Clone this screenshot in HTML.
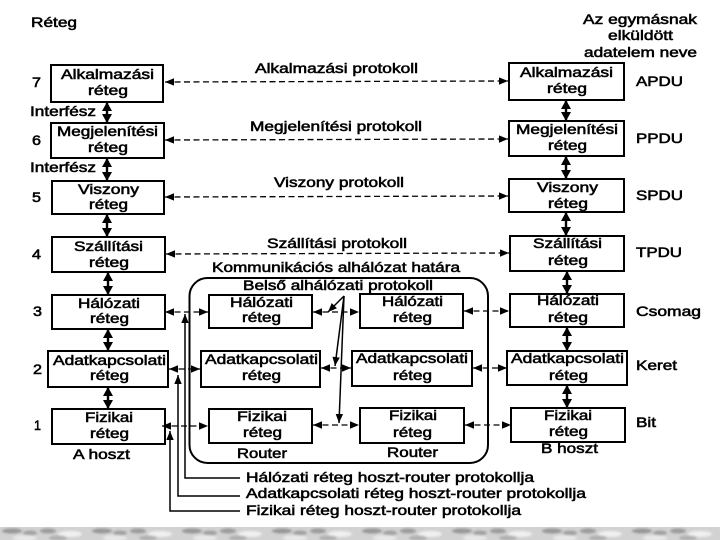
<!DOCTYPE html>
<html lang="hu">
<head>
<meta charset="utf-8">
<title>OSI rétegek</title>
<style>
html,body{margin:0;padding:0;background:#fff;width:720px;height:540px;overflow:hidden}
svg{display:block}
text{font-family:"Liberation Sans",sans-serif;font-size:14px;fill:#000;stroke:#000;stroke-width:.55px}
.b{fill:#fff;stroke:#000;stroke-width:2}
.d{stroke:#000;stroke-width:1.3;stroke-dasharray:6 3.5;fill:none}
.v{stroke:#000;stroke-width:2.4;fill:none}
.l{stroke:#000;stroke-width:1.5;fill:none}
.i{stroke:#000;stroke-width:1.5;fill:none}
</style>
</head>
<body>
<svg width="720" height="540" viewBox="0 0 720 540" xmlns="http://www.w3.org/2000/svg">
<defs>
<marker id="a" markerUnits="userSpaceOnUse" markerWidth="11" markerHeight="9" refX="9" refY="4.500" orient="auto-start-reverse"><path d="M0 .8 L9 4.500 L0 8.200Z" fill="#000"/></marker>
<marker id="w" markerUnits="userSpaceOnUse" markerWidth="11" markerHeight="11" refX="9" refY="5.500" orient="auto-start-reverse"><path d="M0 .5 L9 5.500 L0 10.500Z" fill="#000"/></marker>
<filter id="s" x="-10%" y="-30%" width="120%" height="160%"><feGaussianBlur stdDeviation="1"/></filter>
<pattern id="t" width="90" height="14" patternUnits="userSpaceOnUse" y="527">
<rect width="90" height="14" fill="#d2d2d2"/>
<g filter="url(#s)">
<ellipse cx="12" cy="4" rx="10" ry="2.500" fill="#979797"/>
<ellipse cx="30" cy="6" rx="7" ry="2.500" fill="#a2a2a2"/>
<ellipse cx="48" cy="4" rx="8" ry="2.500" fill="#9b9b9b"/>
<ellipse cx="70" cy="7" rx="12" ry="3" fill="#f0f0f0"/>
<ellipse cx="25" cy="11" rx="12" ry="3" fill="#e8e8e8"/>
<ellipse cx="58" cy="11" rx="9" ry="2.500" fill="#b0b0b0"/>
</g>
</pattern>
</defs>

<rect x="0" y="527" width="720" height="13" fill="url(#t)"/>

<!-- subnet boundary -->
<rect x="189.500" y="278" width="298.500" height="185" rx="18" fill="none" stroke="#000" stroke-width="2"/>

<!-- left boxes -->
<rect class="b" x="51" y="65" width="112" height="37"/>
<rect class="b" x="51" y="123" width="113" height="35"/>
<rect class="b" x="52" y="181" width="112" height="33"/>
<rect class="b" x="52" y="237" width="113" height="35"/>
<rect class="b" x="52" y="295" width="113" height="34"/>
<rect class="b" x="48" y="351" width="120" height="36"/>
<rect class="b" x="52" y="409" width="113" height="35"/>

<!-- right boxes -->
<rect class="b" x="509" y="63" width="115" height="37"/>
<rect class="b" x="509" y="121" width="115" height="35"/>
<rect class="b" x="509" y="179" width="115" height="33"/>
<rect class="b" x="510" y="236" width="114" height="35"/>
<rect class="b" x="510" y="294" width="114" height="33"/>
<rect class="b" x="507" y="351" width="120" height="34"/>
<rect class="b" x="511" y="408" width="114" height="34"/>

<!-- middle boxes -->
<rect class="b" x="209" y="295" width="103" height="33"/>
<rect class="b" x="201" y="351" width="119" height="36"/>
<rect class="b" x="209" y="409" width="103" height="34"/>
<rect class="b" x="360" y="294" width="103" height="34"/>
<rect class="b" x="352" y="351" width="120" height="35"/>
<rect class="b" x="360" y="408" width="104" height="35"/>

<!-- vertical arrows -->
<line class="v" x1="107" y1="102" x2="107" y2="123" marker-start="url(#w)" marker-end="url(#w)"/>
<line class="v" x1="107" y1="158" x2="107" y2="181" marker-start="url(#w)" marker-end="url(#w)"/>
<line class="v" x1="107" y1="214" x2="107" y2="237" marker-start="url(#w)" marker-end="url(#w)"/>
<line class="v" x1="108" y1="272" x2="108" y2="295" marker-start="url(#w)" marker-end="url(#w)"/>
<line class="v" x1="108" y1="329" x2="108" y2="351" marker-start="url(#w)" marker-end="url(#w)"/>
<line class="v" x1="108" y1="387" x2="108" y2="409" marker-start="url(#w)" marker-end="url(#w)"/>
<line class="v" x1="566" y1="100" x2="566" y2="121" marker-start="url(#w)" marker-end="url(#w)"/>
<line class="v" x1="566" y1="156" x2="566" y2="179" marker-start="url(#w)" marker-end="url(#w)"/>
<line class="v" x1="566" y1="212" x2="566" y2="236" marker-start="url(#w)" marker-end="url(#w)"/>
<line class="v" x1="567" y1="271" x2="567" y2="294" marker-start="url(#w)" marker-end="url(#w)"/>
<line class="v" x1="567" y1="327" x2="567" y2="351" marker-start="url(#w)" marker-end="url(#w)"/>
<line class="v" x1="567" y1="385" x2="567" y2="408" marker-start="url(#w)" marker-end="url(#w)"/>

<!-- dashed peer protocols -->
<line class="d" x1="165" y1="82" x2="508" y2="81" marker-start="url(#a)" marker-end="url(#a)"/>
<line class="d" x1="165" y1="140" x2="508" y2="139" marker-start="url(#a)" marker-end="url(#a)"/>
<line class="d" x1="165" y1="197" x2="508" y2="196" marker-start="url(#a)" marker-end="url(#a)"/>
<line class="d" x1="166" y1="254" x2="509" y2="253" marker-start="url(#a)" marker-end="url(#a)"/>

<line class="d" x1="165" y1="312" x2="208" y2="312" marker-start="url(#a)" marker-end="url(#a)"/>
<line class="d" x1="169" y1="369" x2="200" y2="369" marker-start="url(#a)" marker-end="url(#a)"/>
<line class="d" x1="162" y1="426" x2="208" y2="426" marker-start="url(#a)" marker-end="url(#a)"/>
<line class="d" x1="313" y1="312" x2="359" y2="312" marker-start="url(#a)" marker-end="url(#a)"/>
<line class="d" x1="321" y1="368" x2="351" y2="368" marker-start="url(#a)" marker-end="url(#a)"/>
<line class="d" x1="313" y1="425" x2="359" y2="425" marker-start="url(#a)" marker-end="url(#a)"/>
<line class="d" x1="464" y1="311" x2="509" y2="311" marker-start="url(#a)" marker-end="url(#a)"/>
<line class="d" x1="473" y1="368" x2="507" y2="368" marker-start="url(#a)" marker-end="url(#a)"/>
<line class="d" x1="465" y1="425" x2="511" y2="425" marker-start="url(#a)" marker-end="url(#a)"/>

<!-- inner protocol leaders -->
<line class="i" x1="344" y1="296" x2="328" y2="312" marker-end="url(#a)"/>
<line class="i" x1="344" y1="296" x2="335" y2="366" marker-end="url(#a)"/>
<line class="i" x1="344" y1="296" x2="339" y2="423" marker-end="url(#a)"/>

<!-- host-router leaders -->
<polyline class="l" points="240,478 185,478 185,314" marker-end="url(#a)"/>
<polyline class="l" points="240,496 178,496 178,375" marker-end="url(#a)"/>
<polyline class="l" points="240,511 170,511 170,431" marker-end="url(#a)"/>

<!-- headings -->
<text x="31" y="27" textLength="46" lengthAdjust="spacingAndGlyphs">Réteg</text>
<text x="583" y="24" textLength="114" lengthAdjust="spacingAndGlyphs">Az egymásnak</text>
<text x="608" y="40" textLength="65" lengthAdjust="spacingAndGlyphs">elküldött</text>
<text x="584" y="57" textLength="113" lengthAdjust="spacingAndGlyphs">adatelem neve</text>

<!-- layer numbers -->
<text x="32" y="87" textLength="9" lengthAdjust="spacingAndGlyphs">7</text>
<text x="32" y="145" textLength="9" lengthAdjust="spacingAndGlyphs">6</text>
<text x="32" y="202" textLength="9" lengthAdjust="spacingAndGlyphs">5</text>
<text x="32" y="259" textLength="9" lengthAdjust="spacingAndGlyphs">4</text>
<text x="33" y="316" textLength="9" lengthAdjust="spacingAndGlyphs">3</text>
<text x="33" y="374" textLength="9" lengthAdjust="spacingAndGlyphs">2</text>
<text x="34" y="430" textLength="7" lengthAdjust="spacingAndGlyphs">1</text>

<text x="30" y="116" textLength="66" lengthAdjust="spacingAndGlyphs">Interfész</text>
<text x="30" y="172" textLength="66" lengthAdjust="spacingAndGlyphs">Interfész</text>

<!-- left box text -->
<text x="61" y="79" textLength="93" lengthAdjust="spacingAndGlyphs">Alkalmazási</text>
<text x="88" y="95" textLength="40" lengthAdjust="spacingAndGlyphs">réteg</text>
<text x="57" y="136" textLength="101" lengthAdjust="spacingAndGlyphs">Megjelenítési</text>
<text x="88" y="152" textLength="40" lengthAdjust="spacingAndGlyphs">réteg</text>
<text x="78" y="194" textLength="61" lengthAdjust="spacingAndGlyphs">Viszony</text>
<text x="89" y="209" textLength="39" lengthAdjust="spacingAndGlyphs">réteg</text>
<text x="74" y="251" textLength="69" lengthAdjust="spacingAndGlyphs">Szállítási</text>
<text x="89" y="267" textLength="40" lengthAdjust="spacingAndGlyphs">réteg</text>
<text x="78" y="308" textLength="62" lengthAdjust="spacingAndGlyphs">Hálózati</text>
<text x="90" y="323" textLength="39" lengthAdjust="spacingAndGlyphs">réteg</text>
<text x="53" y="365" textLength="113" lengthAdjust="spacingAndGlyphs">Adatkapcsolati</text>
<text x="90" y="380" textLength="39" lengthAdjust="spacingAndGlyphs">réteg</text>
<text x="85" y="422" textLength="48" lengthAdjust="spacingAndGlyphs">Fizikai</text>
<text x="90" y="438" textLength="39" lengthAdjust="spacingAndGlyphs">réteg</text>
<text x="73" y="459" textLength="57" lengthAdjust="spacingAndGlyphs">A hoszt</text>

<!-- right box text -->
<text x="520" y="77" textLength="93" lengthAdjust="spacingAndGlyphs">Alkalmazási</text>
<text x="547" y="93" textLength="40" lengthAdjust="spacingAndGlyphs">réteg</text>
<text x="516" y="134" textLength="102" lengthAdjust="spacingAndGlyphs">Megjelenítési</text>
<text x="548" y="150" textLength="39" lengthAdjust="spacingAndGlyphs">réteg</text>
<text x="537" y="192" textLength="61" lengthAdjust="spacingAndGlyphs">Viszony</text>
<text x="548" y="208" textLength="40" lengthAdjust="spacingAndGlyphs">réteg</text>
<text x="533" y="248" textLength="69" lengthAdjust="spacingAndGlyphs">Szállítási</text>
<text x="548" y="265" textLength="40" lengthAdjust="spacingAndGlyphs">réteg</text>
<text x="537" y="305" textLength="62" lengthAdjust="spacingAndGlyphs">Hálózati</text>
<text x="548" y="322" textLength="40" lengthAdjust="spacingAndGlyphs">réteg</text>
<text x="511" y="363" textLength="113" lengthAdjust="spacingAndGlyphs">Adatkapcsolati</text>
<text x="549" y="380" textLength="39" lengthAdjust="spacingAndGlyphs">réteg</text>
<text x="544" y="420" textLength="48" lengthAdjust="spacingAndGlyphs">Fizikai</text>
<text x="549" y="436" textLength="39" lengthAdjust="spacingAndGlyphs">réteg</text>
<text x="541" y="453" textLength="57" lengthAdjust="spacingAndGlyphs">B hoszt</text>

<!-- PDU names -->
<text x="636" y="86" textLength="47" lengthAdjust="spacingAndGlyphs">APDU</text>
<text x="636" y="143" textLength="47" lengthAdjust="spacingAndGlyphs">PPDU</text>
<text x="636" y="200" textLength="47" lengthAdjust="spacingAndGlyphs">SPDU</text>
<text x="636" y="257" textLength="46" lengthAdjust="spacingAndGlyphs">TPDU</text>
<text x="636" y="316" textLength="65" lengthAdjust="spacingAndGlyphs">Csomag</text>
<text x="636" y="370" textLength="41" lengthAdjust="spacingAndGlyphs">Keret</text>
<text x="636" y="427" textLength="20" lengthAdjust="spacingAndGlyphs">Bit</text>

<!-- protocols -->
<text x="255" y="73" textLength="163" lengthAdjust="spacingAndGlyphs">Alkalmazási protokoll</text>
<text x="250" y="131" textLength="172" lengthAdjust="spacingAndGlyphs">Megjelenítési protokoll</text>
<text x="274" y="187" textLength="130" lengthAdjust="spacingAndGlyphs">Viszony protokoll</text>
<text x="267" y="248" textLength="140" lengthAdjust="spacingAndGlyphs">Szállítási protokoll</text>
<text x="212" y="272" textLength="248" lengthAdjust="spacingAndGlyphs">Kommunikációs alhálózat határa</text>
<text x="243" y="290" textLength="190" lengthAdjust="spacingAndGlyphs">Belső alhálózati protokoll</text>

<!-- middle box text -->
<text x="230" y="307" textLength="63" lengthAdjust="spacingAndGlyphs">Hálózati</text>
<text x="242" y="322" textLength="39" lengthAdjust="spacingAndGlyphs">réteg</text>
<text x="205" y="364" textLength="113" lengthAdjust="spacingAndGlyphs">Adatkapcsolati</text>
<text x="242" y="380" textLength="39" lengthAdjust="spacingAndGlyphs">réteg</text>
<text x="237" y="421" textLength="50" lengthAdjust="spacingAndGlyphs">Fizikai</text>
<text x="243" y="437" textLength="39" lengthAdjust="spacingAndGlyphs">réteg</text>
<text x="237" y="458" textLength="50" lengthAdjust="spacingAndGlyphs">Router</text>
<text x="382" y="306" textLength="61" lengthAdjust="spacingAndGlyphs">Hálózati</text>
<text x="393" y="322" textLength="39" lengthAdjust="spacingAndGlyphs">réteg</text>
<text x="356" y="363" textLength="112" lengthAdjust="spacingAndGlyphs">Adatkapcsolati</text>
<text x="393" y="380" textLength="39" lengthAdjust="spacingAndGlyphs">réteg</text>
<text x="389" y="420" textLength="48" lengthAdjust="spacingAndGlyphs">Fizikai</text>
<text x="393" y="437" textLength="39" lengthAdjust="spacingAndGlyphs">réteg</text>
<text x="387" y="457" textLength="51" lengthAdjust="spacingAndGlyphs">Router</text>

<!-- bottom labels -->
<text x="246" y="482" textLength="288" lengthAdjust="spacingAndGlyphs">Hálózati réteg hoszt-router protokollja</text>
<text x="246" y="498" textLength="340" lengthAdjust="spacingAndGlyphs">Adatkapcsolati réteg hoszt-router protokollja</text>
<text x="246" y="515" textLength="275" lengthAdjust="spacingAndGlyphs">Fizikai réteg hoszt-router protokollja</text>
</svg>
</body>
</html>
